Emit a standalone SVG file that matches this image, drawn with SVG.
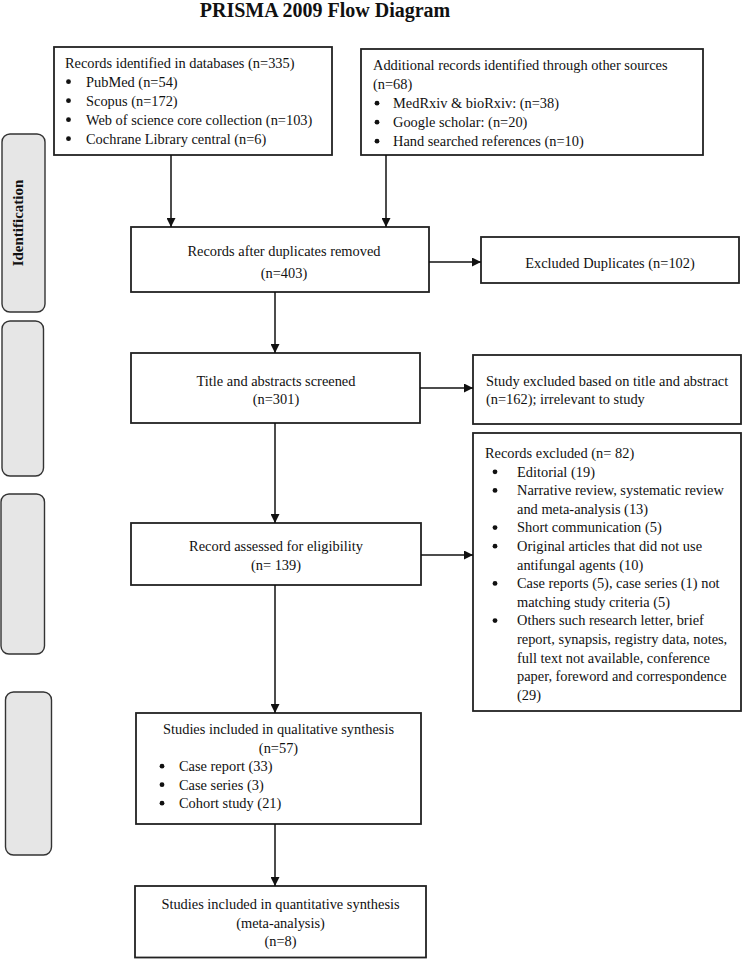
<svg xmlns="http://www.w3.org/2000/svg" width="743" height="959" viewBox="0 0 743 959">
<style>
text{font-family:"Liberation Serif","Times New Roman",serif;fill:#111;font-size:14.4px}
.title{font-size:20px;font-weight:bold}
.c{text-anchor:middle}
.box{fill:#fff;stroke:#222;stroke-width:1.8}
.bar{fill:#e6e6e6;stroke:#333;stroke-width:1.4}
.lbl{font-size:15px;font-weight:bold}
.bul{fill:#111}
.con line{stroke:#111;stroke-width:1.5;marker-end:url(#ah)}
</style>
<defs>
<marker id="ah" viewBox="0 0 10 10" refX="10" refY="5" markerWidth="9" markerHeight="9" markerUnits="userSpaceOnUse" orient="auto">
<path d="M0,0 L10,5 L0,10 z" fill="#111"/>
</marker>
</defs>
<rect width="743" height="959" fill="#fff"/>
<text class="title c" x="325" y="17">PRISMA 2009 Flow Diagram</text>

<g id="bar-identification">
<rect class="bar" x="2" y="134" width="43" height="178" rx="8"/>
<text class="lbl c" transform="translate(23,223) rotate(-90)">Identification</text>
</g>
<g id="bar-screening"><rect class="bar" x="2" y="321" width="41.5" height="155" rx="8"/></g>
<g id="bar-eligibility"><rect class="bar" x="1" y="494" width="43.5" height="160" rx="8"/></g>
<g id="bar-included"><rect class="bar" x="5.5" y="692" width="46" height="163" rx="8"/></g>

<g id="node-databases">
<rect class="box" x="54" y="47" width="278" height="108"/>
<text x="65" y="67.5">Records identified in databases (n=335)</text>
<circle class="bul" cx="68.5" cy="81.7" r="2.4"/><text x="86" y="86.5">PubMed (n=54)</text>
<circle class="bul" cx="68.5" cy="100.7" r="2.4"/><text x="86" y="105.5">Scopus (n=172)</text>
<circle class="bul" cx="68.5" cy="119.7" r="2.4"/><text x="86" y="124.5">Web of science core collection (n=103)</text>
<circle class="bul" cx="68.5" cy="138.7" r="2.4"/><text x="86" y="143.5">Cochrane Library central (n=6)</text>
</g>

<g id="node-other">
<rect class="box" x="361" y="49" width="342" height="106"/>
<text x="373" y="70">Additional records identified through other sources</text>
<text x="373" y="89">(n=68)</text>
<circle class="bul" cx="377" cy="103.2" r="2.4"/><text x="393" y="108">MedRxiv &amp; bioRxiv: (n=38)</text>
<circle class="bul" cx="377" cy="122.2" r="2.4"/><text x="393" y="127">Google scholar: (n=20)</text>
<circle class="bul" cx="377" cy="141.2" r="2.4"/><text x="393" y="146">Hand searched references (n=10)</text>
</g>

<g id="node-dedup">
<rect class="box" x="131" y="227" width="298" height="65"/>
<text class="c" x="284" y="256">Records after duplicates removed</text>
<text class="c" x="284" y="277.5">(n=403)</text>
</g>

<g id="node-excluded-dup">
<rect class="box" x="481" y="237" width="258" height="46"/>
<text class="c" x="610" y="267.5">Excluded Duplicates (n=102)</text>
</g>

<g id="node-screened">
<rect class="box" x="131" y="353" width="289" height="70"/>
<text class="c" x="276" y="385.5">Title and abstracts screened</text>
<text class="c" x="276" y="404">(n=301)</text>
</g>

<g id="node-excluded-title">
<rect class="box" x="473" y="355" width="268" height="69"/>
<text x="486" y="385.5">Study excluded based on title and abstract</text>
<text x="486" y="404">(n=162); irrelevant to study</text>
</g>

<g id="node-records-excluded">
<rect class="box" x="473" y="433" width="268" height="278"/>
<text x="485" y="458">Records excluded (n= 82)</text>
<circle class="bul" cx="495" cy="471.8" r="2.4"/><text x="517" y="476.6">Editorial (19)</text>
<circle class="bul" cx="495" cy="490.4" r="2.4"/><text x="517" y="495.2">Narrative review, systematic review</text>
<text x="517" y="513.8">and meta-analysis (13)</text>
<circle class="bul" cx="495" cy="527.6" r="2.4"/><text x="517" y="532.4">Short communication (5)</text>
<circle class="bul" cx="495" cy="546.2" r="2.4"/><text x="517" y="551">Original articles that did not use</text>
<text x="517" y="569.6">antifungal agents (10)</text>
<circle class="bul" cx="495" cy="583.4" r="2.4"/><text x="517" y="588.2">Case reports (5), case series (1) not</text>
<text x="517" y="606.8">matching study criteria (5)</text>
<circle class="bul" cx="495" cy="620.6" r="2.4"/><text x="517" y="625.4">Others such research letter, brief</text>
<text x="517" y="644">report, synapsis, registry data, notes,</text>
<text x="517" y="662.6">full text not available, conference</text>
<text x="517" y="681.2">paper, foreword and correspondence</text>
<text x="517" y="699.8">(29)</text>
</g>

<g id="node-eligibility">
<rect class="box" x="131" y="523" width="290" height="62"/>
<text class="c" x="276" y="551">Record assessed for eligibility</text>
<text class="c" x="276" y="569.5">(n= 139)</text>
</g>

<g id="node-qualitative">
<rect class="box" x="136" y="713" width="285" height="111"/>
<text class="c" x="278.5" y="734">Studies included in qualitative synthesis</text>
<text class="c" x="278.5" y="752.5">(n=57)</text>
<circle class="bul" cx="162" cy="766.2" r="2.4"/><text x="179" y="771">Case report (33)</text>
<circle class="bul" cx="162" cy="784.7" r="2.4"/><text x="179" y="789.5">Case series (3)</text>
<circle class="bul" cx="162" cy="803.2" r="2.4"/><text x="179" y="808">Cohort study (21)</text>
</g>

<g id="node-quantitative">
<rect class="box" x="135" y="886" width="291" height="71.5"/>
<text class="c" x="280.5" y="909">Studies included in quantitative synthesis</text>
<text class="c" x="280.5" y="927.5">(meta-analysis)</text>
<text class="c" x="280.5" y="946">(n=8)</text>
</g>

<g id="connectors" class="con">
<line x1="171" y1="155" x2="171" y2="227"/>
<line x1="386" y1="155" x2="386" y2="227"/>
<line x1="429" y1="262" x2="481" y2="262"/>
<line x1="275" y1="292" x2="275" y2="353"/>
<line x1="420" y1="388" x2="473" y2="388"/>
<line x1="275" y1="423" x2="275" y2="523"/>
<line x1="421" y1="555" x2="473" y2="555"/>
<line x1="275" y1="585" x2="275" y2="713"/>
<line x1="275" y1="824" x2="275" y2="886"/>
</g>
</svg>
